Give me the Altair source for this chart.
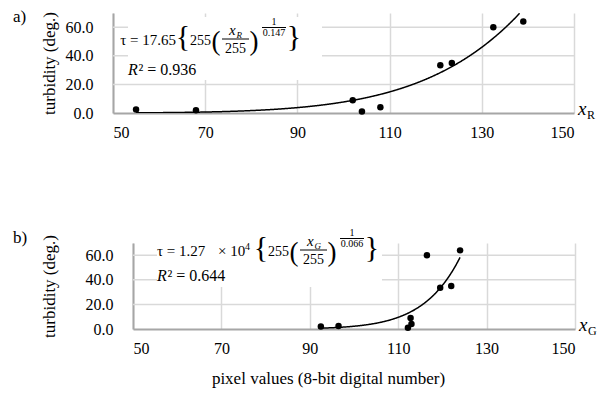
import altair as alt
import pandas as pd

FONT = "Liberation Serif"
GRID = "#d9d9d9"
AXC = "#a6a6a6"

# ---- data ----
xr_vals = [55, 68, 102, 104, 108, 121, 123.5, 132.5, 139]
tau_a = [2.5, 2, 9, 1, 4, 33.5, 35, 60, 64]
xg_vals = [92.5, 96.5, 112.2, 113, 112.8, 116.5, 119.5, 122, 124]
tau_b = [2, 2.5, 1, 4, 9, 60, 33.5, 35, 64]

x_ticks = [50, 70, 90, 110, 130, 150]
y_ticks = [0, 20, 40, 60]
x_domain = [50, 150]
y_domain = [0, 70]

# fitted curves as printed on the chart: tau = coef * 255 * (x/255)^(1/expo)
fit_a = {"coef": 17.65, "expo": 0.147, "start": 55, "stop": 139}
fit_b = {"coef": 1.27e4, "expo": 0.066, "start": 92.5, "stop": 124}

one = alt.Data(values=[{"k": 0}])


def txt(s, x, y, size, style="normal", align="left", baseline="alphabetic"):
    return alt.Chart(one).mark_text(
        text=s, font=FONT, fontSize=size, fontStyle=style, align=align,
        baseline=baseline, color="black"
    ).encode(x=alt.value(x), y=alt.value(y))


def bar(x1, x2, y):
    return alt.Chart(one).mark_rule(color="black", strokeWidth=1).encode(
        x=alt.value(x1), x2=alt.value(x2), y=alt.value(y))


def box(x1, x2, y1, y2):
    return alt.Chart(one).mark_rect(color="white").encode(
        x=alt.value(x1), x2=alt.value(x2), y=alt.value(y1), y2=alt.value(y2))


def panel(xs, ys, fit, w, h, x0, ytitlepad, xtitle, sub, letter,
          letter_y, formula_layers, xtitle_x=0):
    """x0: pixel where the x axis starts inside the panel (y axis shifted there)."""
    df = pd.DataFrame({"x": xs, "tau": ys})
    xscale = alt.Scale(domain=x_domain, nice=False, zero=False, range=[x0, w])
    yscale = alt.Scale(domain=y_domain, nice=False)
    xkw = dict(values=x_ticks, grid=True, gridColor=GRID, gridWidth=1.5,
               domainColor=AXC, domainWidth=2, ticks=False, labelFont=FONT,
               labelFontSize=16, labelColor="black", labelPadding=11)
    if xtitle:
        xaxis = alt.Axis(title=xtitle, titleFont=FONT, titleFontSize=17,
                         titleFontWeight="normal", titleColor="black",
                         titleX=xtitle_x, titleY=54, titleAlign="center",
                         titleBaseline="alphabetic", **xkw)
    else:
        xaxis = alt.Axis(title=None, **xkw)
    yaxis = alt.Axis(values=y_ticks, format=".1f", grid=False, offset=-x0,
                     domainColor=AXC, domainWidth=2, ticks=False,
                     labelFont=FONT, labelFontSize=16, labelColor="black",
                     labelPadding=20, title="turbidity (deg.)",
                     titleFont=FONT, titleFontSize=17, titleFontWeight="normal",
                     titleColor="black", titlePadding=ytitlepad)
    X = alt.X("x:Q", scale=xscale, axis=xaxis)
    Y = alt.Y("tau:Q", scale=yscale, axis=yaxis)

    grid = alt.Chart(pd.DataFrame({"tau": y_ticks[1:]})).mark_rule(
        color=GRID, strokeWidth=1.5).encode(y=Y, x=alt.value(x0), x2=alt.value(w))
    curve = alt.Chart(alt.sequence(fit["start"], fit["stop"] + 0.1, 0.1, as_="x")).transform_calculate(
        tau=f"{fit['coef']} * 255 * pow(datum.x / 255, 1 / {fit['expo']})"
    ).transform_filter("datum.tau <= 70").mark_line(
        color="black", strokeWidth=1.5, clip=True).encode(x=X, y=Y)
    pts = alt.Chart(df).mark_circle(color="black", opacity=1, size=42).encode(x=X, y=Y)

    xl = txt("x", w + 4, h + 2, 19, style="italic")
    xsub = txt(sub, w + 13, h + 6, 12)
    let = txt(letter, -100, letter_y, 17)
    return alt.layer(grid, *formula_layers[:1], curve, pts, *formula_layers[1:], xl, xsub, let).properties(
        width=w, height=h)


def formula(L, B, E, heads, sub, expo_txt, r2, r2dy, boxdims):
    layers = [box(*boxdims)]
    for (s, dx, dy, size, align) in heads:
        layers.append(txt(s, dx, B + dy, size, align=align))
    layers.append(txt("{", E + 6, B - 8, 30, align="center", baseline="middle"))
    layers.append(txt("255", E + 13, B, 14))
    layers.append(txt("(", E + 39, B - 3, 27, align="center", baseline="middle"))
    layers.append(txt("x", E + 52, B - 10, 15, style="italic"))
    layers.append(txt(sub, E + 59.5, B - 7, 9, style="italic"))
    layers.append(bar(E + 45, E + 72, B - 6))
    layers.append(txt("255", E + 58.5, B + 8, 14, align="center"))
    layers.append(txt(")", E + 77, B - 3, 27, align="center", baseline="middle"))
    layers.append(txt("1", E + 97, B - 20, 10, align="center"))
    layers.append(bar(E + 85, E + 109, B - 17.5))
    layers.append(txt(expo_txt, E + 97, B - 9, 10, align="center"))
    layers.append(txt("}", E + 117, B - 8, 30, align="center", baseline="middle"))
    layers.append(txt("R", L, B + r2dy, 16, style="italic"))
    layers.append(txt("\u00b2 = " + r2, L + 10.5, B + r2dy, 16))
    return layers


# panel a: plot starts at its own origin
fa = formula(15, 32, 64, [("\u03c4 = 17.65", 63, 0, 15, "right")], "R", "0.147", "0.936", 30,
             (15, 209, 4, 67))
# panel b: its axes start 20 px further right
fb = formula(44, 13, 142, [("\u03c4 = 1.27", 44, 0, 15, "left"), ("\u00d7 10", 105, 0, 15, "left"),
                           ("4", 132, -6, 10, "left")], "G", "0.066", "0.644", 25,
             (44, 269, -19, 44))

pa = panel(xr_vals, tau_a, fit_a, 461, 100, 0, 7, None, "R", "a)", 9, fa)
pb = panel(xg_vals, tau_b, fit_b, 462, 86, 20, 27, "pixel values (8-bit digital number)", "G",
           "b)", 0, fb, xtitle_x=215)

chart = alt.concat(pa, pb, columns=1, spacing=84, align="none").properties(
    padding={"left": 5, "top": 0, "right": 0, "bottom": 10}
).configure_view(strokeWidth=0)

chart.save("out.html", embed_options={"renderer": "svg", "actions": False})
